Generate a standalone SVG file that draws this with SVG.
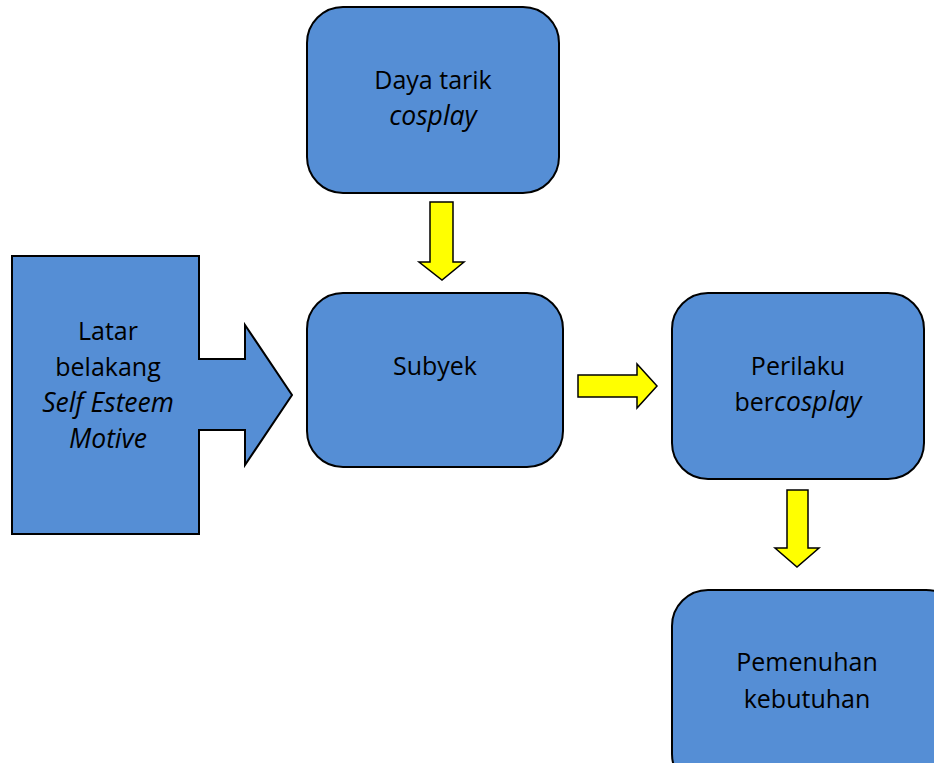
<svg xmlns="http://www.w3.org/2000/svg" width="934" height="763" viewBox="0 0 934 763">
<style>
.node{fill:#558ed5;stroke:#000;stroke-width:2}
.arr{fill:#ffff00;stroke:#000;stroke-width:1.5}
text{font-family:"Open Sans","Liberation Sans",sans-serif;font-size:25px;fill:#000;text-anchor:middle}
.i{font-style:italic;font-size:26.5px}
</style>
<rect width="934" height="763" fill="#fff"/>
<g id="latar">
<path class="node" d="M12,256 H199 V359 H245 V325 L292,395 L245,465 V430 H199 V534 H12 Z"/>
<text x="108" y="340">Latar</text>
<text x="108" y="376">belakang</text>
<text x="108" y="412" class="i">Self Esteem</text>
<text x="108" y="448" class="i">Motive</text>
</g>
<g id="daya">
<rect class="node" x="307" y="7" width="252" height="186" rx="36"/>
<text x="433" y="89">Daya tarik</text>
<text x="433" y="125" class="i">cosplay</text>
</g>
<g id="subyek">
<rect class="node" x="307" y="293" width="256" height="174" rx="36"/>
<text x="435" y="375">Subyek</text>
</g>
<g id="perilaku">
<rect class="node" x="672" y="293" width="252" height="186" rx="36"/>
<text x="798" y="375">Perilaku</text>
<text x="798" y="411">ber<tspan class="i">cosplay</tspan></text>
</g>
<g id="pemenuhan">
<rect class="node" x="672" y="590" width="290" height="200" rx="36"/>
<text x="807" y="671">Pemenuhan</text>
<text x="807" y="708">kebutuhan</text>
</g>
<g id="connectors">
<path class="arr" d="M430,202 H453 V262 H464 L442,280 L419,262 H430 Z"/>
<path class="arr" d="M578,375 H637 V364 L657,386 L637,408 V397 H578 Z"/>
<path class="arr" d="M787,490 H808 V548 H819 L797,567 L775,548 H787 Z"/>
</g>
</svg>
